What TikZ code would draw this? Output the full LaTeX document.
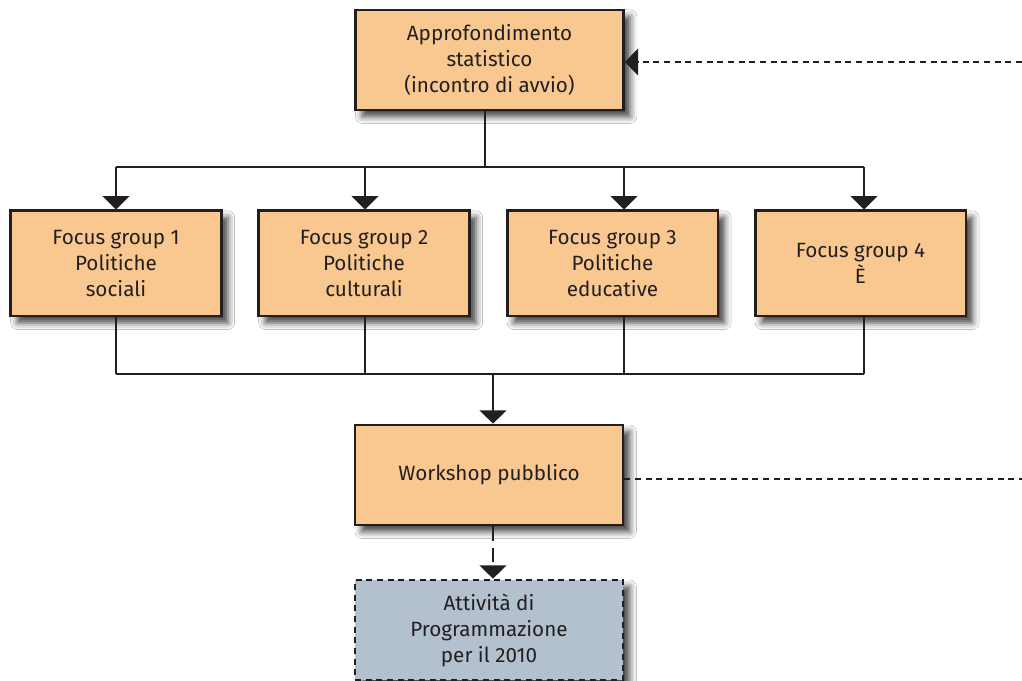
\documentclass[tikz,border=0pt]{standalone}
\usepackage{fontspec}
\setmainfont{Fira Sans}
\usetikzlibrary{arrows.meta,shadows.blur,calc}
\definecolor{boxorange}{HTML}{F8C890}
\definecolor{boxblue}{HTML}{B3C0CD}
\definecolor{ink}{HTML}{231F20}
\tikzset{
  box/.style={draw=ink, line width=2pt, fill=boxorange, rectangle, align=center,
    text=ink, font=\fontsize{15.5}{19.5}\selectfont, inner sep=0pt,
    blur shadow={shadow xshift=5pt, shadow yshift=-5pt, shadow blur radius=5pt, shadow opacity=75}},
  bigbox/.style={box, minimum width=201pt, minimum height=75pt},
  fgbox/.style={box, minimum width=158pt, minimum height=79pt},
  conn/.style={draw=ink, line width=1.6pt},
  arr/.style={conn, -{Triangle[width=20pt,length=10pt]}},
  dsh/.style={dash pattern=on 4.5pt off 3.5pt},
  longdsh/.style={dash pattern=on 11pt off 5pt},
}
\begin{document}
\begin{tikzpicture}[x=0.75pt,y=-0.75pt]
\useasboundingbox (0,0) rectangle (1022,681);
\fill[white] (0,0) rectangle (1022,681);
% nodes
\node[bigbox] (t) at (489.5,60) {Approfondimento\\statistico\\(incontro di avvio)};
\node[fgbox] (f1) at (116,263.5) {Focus group 1\\Politiche\\sociali};
\node[fgbox] (f2) at (364,263.5) {Focus group 2\\Politiche\\culturali};
\node[fgbox] (f3) at (612.5,263.5) {Focus group 3\\Politiche\\educative};
\node[fgbox] (f4) at (860.5,263.5) {Focus group 4\\È};
\node[bigbox] (w) at (489,475) {Workshop pubblico};
\node[bigbox, fill=boxblue, dsh] (a) at (489,630) {Attività di\\Programmazione\\per il 2010};
% coordinates
\coordinate (b1) at (485,167);
\coordinate (b2) at (493,374);
\coordinate (x1) at (116,0);
\coordinate (x2) at (365,0);
\coordinate (x3) at (624,0);
\coordinate (x4) at (864,0);
\coordinate (r1) at (1022,62);
\coordinate (r2) at (1022,479);
% top bus
\draw[conn] (b1 |- t.south) -- (b1);
\draw[conn] (x1 |- b1) -- (x4 |- b1);
\draw[arr] (x1 |- b1) -- (x1 |- f1.north);
\draw[arr] (x2 |- b1) -- (x2 |- f2.north);
\draw[arr] (x3 |- b1) -- (x3 |- f3.north);
\draw[arr] (x4 |- b1) -- (x4 |- f4.north);
% bottom bus
\draw[conn] (x1 |- f1.south) -- (x1 |- b2);
\draw[conn] (x2 |- f2.south) -- (x2 |- b2);
\draw[conn] (x3 |- f3.south) -- (x3 |- b2);
\draw[conn] (x4 |- f4.south) -- (x4 |- b2);
\draw[conn] (x1 |- b2) -- (x4 |- b2);
\draw[arr] (b2) -- (b2 |- w.north);
% dashed
\draw[arr, dsh] (r1) -- (r1 -| t.east);
\draw[conn, dsh, line width=1.4pt] (r2 -| w.east) -- (r2);
\draw[arr, longdsh, line width=2pt] (b2 |- w.south) -- (b2 |- a.north);
\end{tikzpicture}
\end{document}
